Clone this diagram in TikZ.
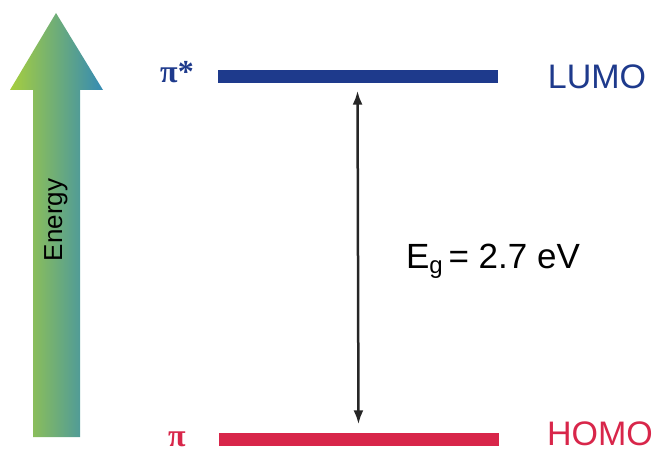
\documentclass[tikz,border=0pt]{standalone}
\usepackage{fontspec}
\setmainfont{Liberation Sans}
\newfontfamily\greekfont{Liberation Serif}
\usetikzlibrary{arrows.meta}
\definecolor{lumoblue}{HTML}{1E3A8C}
\definecolor{homored}{HTML}{D8264A}
\definecolor{arrowleft}{HTML}{A6CE3E}
\definecolor{arrowright}{HTML}{358BB4}
\tikzset{
  level/.style={rectangle, minimum width=280pt, minimum height=13pt, inner sep=0pt},
  orbital/.style={anchor=base, inner sep=0pt, font=\fontsize{34}{36}\selectfont},
  greek/.style={font=\greekfont\bfseries\fontsize{32}{34}\selectfont}
}
\begin{document}
\begin{tikzpicture}[x=1pt,y=1pt]
\useasboundingbox (0,0) rectangle (660,453);
% energy axis
\shade[left color=arrowleft, right color=arrowright] (33,16) -- (80,16) -- (80,363) -- (103,363) -- (56,440) -- (10,363) -- (33,363) -- cycle;
\node[rotate=90, font=\fontsize{26}{30}\selectfont] (energy) at (56,233) {Energy};
% levels
\node[level, fill=lumoblue] (lumo) at (357.5,376) {};
\node[level, fill=homored] (homo) at (358.5,14) {};
\node[greek, text=lumoblue] (pistar) at (177,381) {π*};
\node[greek, text=homored] (pi) at (177,14) {π};
\node[orbital, text=lumoblue] (lumotext) at (597,364) {LUMO};
\node[orbital, text=homored] (homotext) at (600,7.5) {HOMO};
% gap
\draw[{Latex[length=14pt,width=10pt]}-{Latex[length=14pt,width=10pt]}, line width=2.5pt, black!85, shorten <=7pt, shorten >=8pt] (lumo.south) -- (homo.north);
\node[font=\fontsize{35}{38}\selectfont] (gap) at (493,192) {E\raisebox{-5pt}{\fontsize{24}{26}\selectfont g}\,= 2.7 eV};
\end{tikzpicture}
\end{document}
